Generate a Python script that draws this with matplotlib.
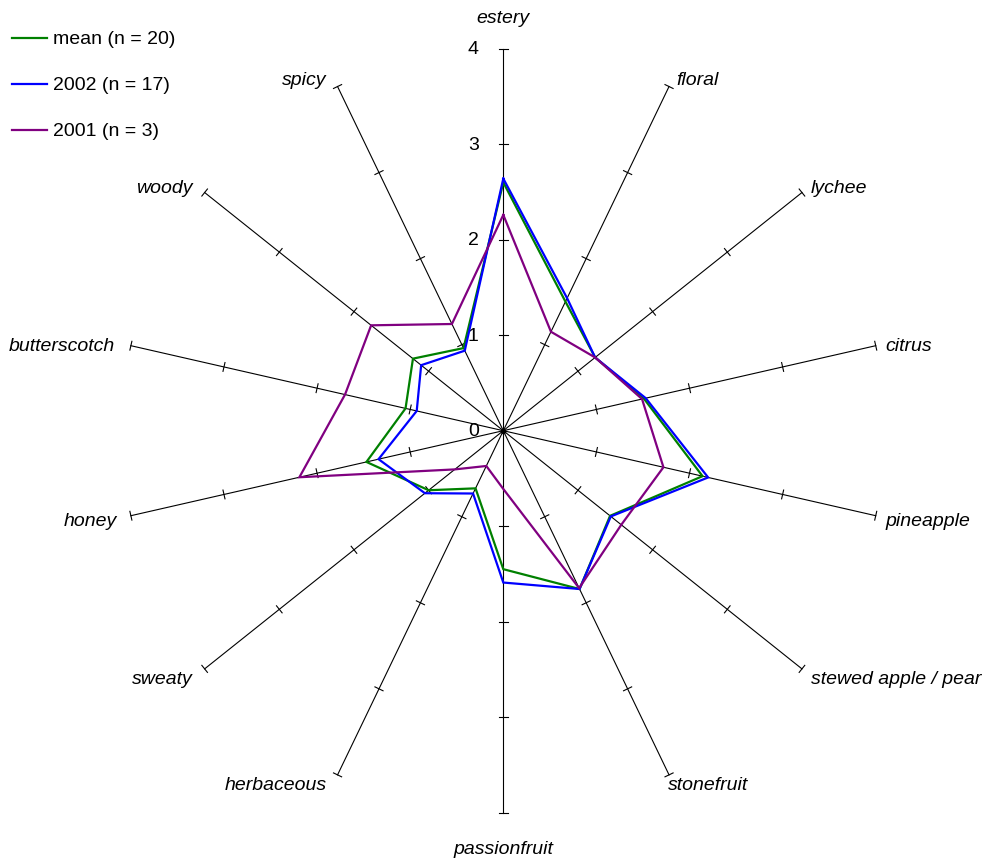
import numpy as np
import matplotlib
matplotlib.use("Agg")
import matplotlib.pyplot as plt
from matplotlib.lines import Line2D

# ── Data ─────────────────────────────────────────────────────────
attributes = ["estery", "floral", "lychee", "citrus", "pineapple",
              "stewed apple / pear", "stonefruit", "passionfruit",
              "herbaceous", "sweaty", "honey", "butterscotch",
              "woody", "spicy"]

mean_all = [2.60, 1.50, 1.23, 1.51, 2.14, 1.43, 1.84, 1.45,
            0.67, 1.00, 1.47, 1.05, 1.21, 0.96]
y2002    = [2.64, 1.54, 1.23, 1.53, 2.20, 1.44, 1.84, 1.59,
            0.73, 1.05, 1.34, 0.93, 1.10, 0.93]
y2001    = [2.26, 1.15, 1.23, 1.49, 1.72, 1.58, 1.83, 0.61,
            0.41, 0.65, 2.19, 1.70, 1.77, 1.24]

series = [("mean (n = 20)", mean_all, "#008000"),
          ("2002 (n = 17)", y2002, "#0000FF"),
          ("2001 (n = 3)", y2001, "#800080")]

r_max = 4
r_ticks = [0, 1, 2, 3, 4]

# ── Geometry ─────────────────────────────────────────────────────
W, H, DPI = 988, 862, 100
CX, CY = 503.3, 431.7          # centre in pixels (from top-left)
UNIT = 95.5                    # pixels per scale unit
FS = 14

n = len(attributes)
angles = np.arange(n) * 2 * np.pi / n   # clockwise from top
ux, uy = np.sin(angles), np.cos(angles)

plt.rcParams["font.family"] = ["Liberation Sans", "DejaVu Sans"]

fig = plt.figure(figsize=(W / DPI, H / DPI), dpi=DPI)
ax = fig.add_axes([0, 0, 1, 1])
ax.set_xlim(-CX / UNIT, (W - CX) / UNIT)
ax.set_ylim(-(H - CY) / UNIT, CY / UNIT)
ax.set_aspect("equal")
ax.axis("off")

# spokes and tick marks
tick_half = 4.5 / UNIT
for i in range(n):
    ax.plot([0, r_max * ux[i]], [0, r_max * uy[i]], color="black", lw=0.8,
            zorder=1)
    px, py = -uy[i], ux[i]   # perpendicular direction
    for r in r_ticks[1:]:
        x0, y0 = r * ux[i], r * uy[i]
        ax.plot([x0 - tick_half * px, x0 + tick_half * px],
                [y0 - tick_half * py, y0 + tick_half * py],
                color="black", lw=0.8, zorder=1)
ax.plot(0, 0, "o", color="black", ms=3, zorder=1)

# radial scale labels on the top spoke
for r in r_ticks:
    ax.text(-30 / UNIT, r, str(r), ha="center", va="center", fontsize=FS)

# series
for label, vals, col in series:
    v = np.array(vals + vals[:1])
    xs = v * np.append(ux, ux[0])
    ys = v * np.append(uy, uy[0])
    ax.plot(xs, ys, color=col, lw=1.6, zorder=3, solid_joinstyle="miter")

# attribute labels: pixel offsets from spoke end, alignment
label_place = [(0, 31, "center"), (7, 7, "left"), (9, 5, "left"),
               (10, 0, "left"), (10, -5, "left"), (9, -10, "left"),
               (-1, -10, "left"), (0, -36, "center"), (-11, -10, "right"),
               (-12, -10, "right"), (-14, -5, "right"), (-16, 0, "right"),
               (-12, 5, "right"), (-11, 7, "right")]
for i, name in enumerate(attributes):
    dx, dy, ha = label_place[i]
    ax.annotate(name, xy=(r_max * ux[i], r_max * uy[i]),
                xytext=(dx, dy), textcoords="offset pixels",
                ha=ha, va="center", fontsize=FS, style="italic")

# legend, drawn by hand at the top-left
for k, (label, vals, col) in enumerate(series):
    ypix = 39 + 46 * k
    yf = 1 - ypix / H
    fig.add_artist(Line2D([12 / W, 47 / W], [yf, yf], color=col, lw=1.6))
    fig.text(53 / W, yf, label, ha="left", va="center", fontsize=FS)

fig.savefig("out.png", dpi=DPI)
